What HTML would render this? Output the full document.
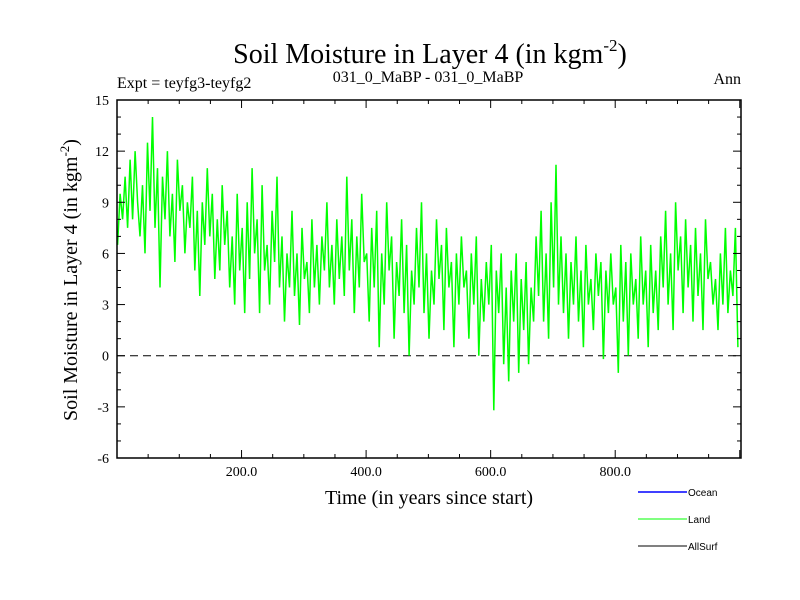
<!DOCTYPE html>
<html><head><meta charset="utf-8">
<style>
body{margin:0;background:#fff;}
svg{display:block;}
text{font-family:"Liberation Serif",serif;fill:#000;}
.leg{font-family:"Liberation Sans",sans-serif;font-size:10px;}
</style></head>
<body>
<svg id="chart" width="800" height="600" viewBox="0 0 800 600">
<rect width="800" height="600" fill="#fff"/>
<defs><clipPath id="pc"><rect x="117" y="100" width="624" height="358"/></clipPath></defs>
<text x="430" y="63" font-size="28" text-anchor="middle">Soil Moisture in Layer 4 (in kgm<tspan font-size="17" dy="-12">-2</tspan><tspan dy="12">)</tspan></text>
<text x="117" y="88" font-size="16">Expt = teyfg3-teyfg2</text>
<text x="428" y="82" font-size="16" text-anchor="middle">031_0_MaBP - 031_0_MaBP</text>
<text x="741" y="84" font-size="16" text-anchor="end">Ann</text>
<text transform="translate(77,280) rotate(-90)" font-size="20" text-anchor="middle">Soil Moisture in Layer 4 (in kgm<tspan font-size="13" dy="-8">-2</tspan><tspan dy="8">)</tspan></text>
<text x="429" y="504" font-size="20" text-anchor="middle">Time (in years since start)</text>
<g id="grid"></g>
<g id="series" clip-path="url(#pc)"></g>
<g id="axes"></g>
<g>
<line x1="638" y1="492" x2="687" y2="492" stroke="#0000ff" stroke-width="1.5"/>
<text class="leg" x="688" y="496">Ocean</text>
<line x1="638" y1="519" x2="687" y2="519" stroke="#00ff00"/>
<text class="leg" x="688" y="523">Land</text>
<line x1="638" y1="546" x2="687" y2="546" stroke="#000"/>
<text class="leg" x="688" y="550">AllSurf</text>
</g>
</svg>
<script>
const yTicks = [-6,-3,0,3,6,9,12,15];
const xTicks = [200,400,600,800];
const xTickLabels = ["200.0","400.0","600.0","800.0"];
const yearStart = 1, yearStep = 4;
const landValues = [
6.5,9.5,8,10.5,7.5,11.5,8,12,9,7,
10,6,12.5,8.5,14,7.5,11,4,10.5,8,
12,7,9.5,5.5,11.5,8.5,10,6,9,7.5,
10.5,5,8.5,3.5,9,6.5,11,7,9.5,4.5,
8,5,10,6.5,8.5,4,7,3,9.5,5,
7.5,2.5,9,4.5,11,6,8,2.5,10,5,
6.5,3,8.5,5.5,10.5,4,7,2,6,4,
8.5,3.5,6,1.8,7.5,4.5,5.5,2.5,8,4,
6.5,3,7,5,9,4,6.5,3,8,4.5,
7,3.5,10.5,5,8,2.5,7,4,9.5,5.5,
6,2,7.5,4,8.5,0.5,6,3,9,5,
7,1,5.5,3.5,8,2.5,6.5,0,5,3,
7.5,4,9,2.5,6,1,5,3,8,4.5,
6.5,1.5,7.5,4,5.5,0.5,6,3,7,4,
5,1,6,3,7,0,4.5,2,5.5,3,
6.5,-3.2,5,2.5,6,-0.5,4,-1.5,5,2,
6,-1,4.5,1.5,5.5,-0.5,4,2,7,3.5,
8.5,2,6,1,9,4,11.2,3,7,2.5,
6,1,5.5,3,7,2,5,0.5,6.5,3,
4.5,1.5,6,3.5,5.5,-0.2,5,2.5,6,3,
4,-1,6.5,2,5.5,0,6,3,4.5,1,
7,3,5,0.5,6.5,2.5,5,1.5,7,4,
8.5,3,6,1.5,9,5,7,2.5,8,4,
6.5,2,7.5,3.5,6,1.5,8,4.5,5.5,3,
4.5,1.5,6,3,7.5,2.5,5,3.5,7.5,0.5
];
const L=117,R=741,T=100,B=458,xMin=0,xMax=1002,yMin=-6,yMax=15;
const xs=v=>L+(v-xMin)/(xMax-xMin)*(R-L);
const ys=v=>B-(v-yMin)/(yMax-yMin)*(B-T);
const NS="http://www.w3.org/2000/svg";
function mk(tag,attrs,parent){const e=document.createElementNS(NS,tag);for(const k in attrs)e.setAttribute(k,attrs[k]);parent.appendChild(e);return e;}
const grid=document.getElementById('grid'),series=document.getElementById('series'),axes=document.getElementById('axes');
const zl=mk('line',{x1:L,x2:R,y1:ys(0),y2:ys(0),stroke:'#000','stroke-dasharray':'8,5','stroke-width':1},grid);


let pts=landValues.map((v,i)=>xs(yearStart+i*yearStep).toFixed(1)+','+ys(v).toFixed(1)).join(' ');
const pl=mk('polyline',{points:pts,fill:'none',stroke:'#00ff00','stroke-width':1.5},series);


const fr=mk('rect',{x:L,y:T,width:R-L,height:B-T,fill:'none',stroke:'#000','stroke-width':1.5},axes);


for(let v=yMin;v<=yMax;v++){const len=(v%3===0)?8:4;const y=ys(v);
 mk('line',{x1:L,x2:L+len,y1:y,y2:y,stroke:'#000'},axes);
 mk('line',{x1:R,x2:R-len,y1:y,y2:y,stroke:'#000'},axes);}
yTicks.forEach(v=>{const t=mk('text',{x:L-8,y:ys(v)+5,'font-size':14,'text-anchor':'end'},axes);t.textContent=v;
 
 });
for(let v=50;v<xMax;v+=50){const len=(v%200===0)?8:4;const x=xs(v);
 mk('line',{x1:x,x2:x,y1:B,y2:B-len,stroke:'#000'},axes);
 mk('line',{x1:x,x2:x,y1:T,y2:T+len,stroke:'#000'},axes);}
xTicks.forEach((v,i)=>{const t=mk('text',{x:xs(v),y:B+18,'font-size':14,'text-anchor':'middle'},axes);t.textContent=xTickLabels[i];
 
 });
</script>
</body></html>
